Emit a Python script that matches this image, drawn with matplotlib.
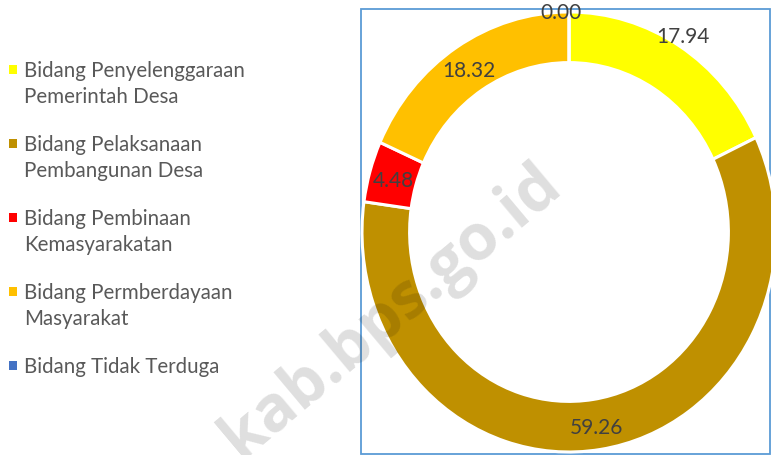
import matplotlib
matplotlib.use("Agg")
import matplotlib.pyplot as plt
import numpy as np
from matplotlib.patches import Rectangle

categories = ["Bidang Penyelenggaraan\nPemerintah Desa",
              "Bidang Pelaksanaan\nPembangunan Desa",
              "Bidang Pembinaan\nKemasyarakatan",
              "Bidang Permberdayaan\nMasyarakat",
              "Bidang Tidak Terduga"]
values = [17.94, 59.26, 4.48, 18.32, 0.00]
value_labels = ["17.94", "59.26", "4.48", "18.32", "0.00"]
colors = ["#FFFF00", "#BF9000", "#FF0000", "#FFC000", "#4472C4"]

FONT = ["Lato", "DejaVu Sans"]
W, H = 771, 456
fig = plt.figure(figsize=(W / 100, H / 100), dpi=100)
fig.patch.set_facecolor("white")

# background axes in pixel coords
bg = fig.add_axes([0, 0, 1, 1])
bg.set_xlim(0, W)
bg.set_ylim(H, 0)
bg.axis("off")
bg.add_patch(Rectangle((361, 10), 409, 445, fill=False, edgecolor="#5B9BD5", lw=1.3, zorder=1))

# legend
leg_y0 = 70
leg_step = 74
line_gap = 26
for i, (lab, col) in enumerate(zip(categories, colors)):
    y = leg_y0 + i * leg_step
    bg.add_patch(Rectangle((8.5, y - 4), 8.5, 8.5, facecolor=col, edgecolor="none", zorder=3))
    for k, line in enumerate(lab.split("\n")):
        bg.text(24, y + 7 + k * line_gap, line, fontsize=14.8, color="#595959", family=FONT,
                ha="left", va="baseline", zorder=3)

# donut
cx, cy, rx, ry = 569, 233, 207, 220
ax = fig.add_axes([(cx - rx) / W, (H - cy - ry) / H, 2 * rx / W, 2 * ry / H])
hole = 0.77
wedges, _ = ax.pie(values, colors=colors, startangle=90, counterclock=False,
                   radius=1.0, wedgeprops=dict(width=1 - hole, edgecolor="white", linewidth=2.2))
ax.set_xlim(-1, 1)
ax.set_ylim(-1, 1)
ax.set_aspect("auto")
ax.axis("off")

# label placement: radius and angle tweak per label (Excel best-fit)
rad = [1.048, 0.895, 0.88, 0.88, 1.0]
dang = [0.6, -0.3, 0.5, 0.3, 2.3]
cum = np.cumsum([0] + values[:-1])
total = sum(values)
for i, v in enumerate(values):
    mid = 90 - (cum[i] + v / 2) / total * 360 + dang[i]
    t = np.deg2rad(mid)
    ax.text(rad[i] * np.cos(t), rad[i] * np.sin(t), value_labels[i], fontsize=15,
            color="#404040", ha="center", va="center", family=FONT, zorder=5, clip_on=False)

# watermark on top
fig.text(392 / W, 1 - 312 / H, "kab.bps.go.id", fontsize=46, fontweight="bold", color="black",
         alpha=0.13, rotation=40, ha="center", va="center",
         family=["Open Sans", "DejaVu Sans"], zorder=10)

fig.savefig("out.png", dpi=100)
